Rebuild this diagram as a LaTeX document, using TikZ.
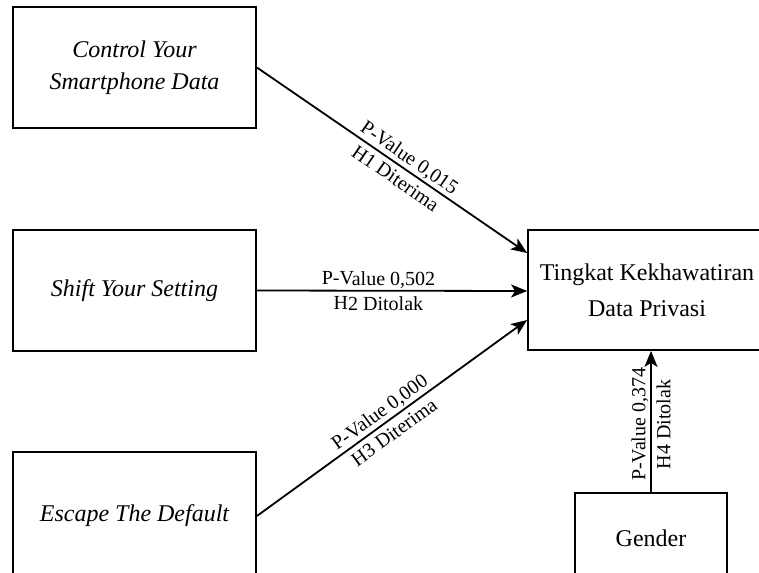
\documentclass[tikz,border=0pt]{standalone}
\usepackage{fontspec}
\setmainfont{Liberation Serif}
\usetikzlibrary{arrows.meta, positioning, calc}

\begin{document}
\begin{tikzpicture}[x=1pt, y=-1pt,
      varbox/.style={draw, line width=1.8pt, minimum width=243pt,
        minimum height=121pt, align=center,
        font=\fontsize{24}{32}\selectfont},
      lbl/.style={sloped, align=center, inner sep=1pt,
        font=\fontsize{20}{25}\selectfont},
      link/.style={->, line width=1.8pt},
      >={Stealth[length=16pt, width=13pt, inset=4pt]}
    ]
      \useasboundingbox (0,0) rectangle (759,572);
      \clip (0,0) rectangle (759,572);
      \node[varbox] (control) at (134.5,67.5)
        {\itshape Control Your\\\itshape Smartphone Data};
      \node[varbox] (shift) at (134.5,290.5) {\itshape Shift Your Setting};
      \node[varbox, minimum height=128pt] (escape) at (134.5,516)
        {\itshape Escape The Default};
      \node[varbox, minimum width=256pt, minimum height=120pt,
        font=\fontsize{24}{36}\selectfont] (worry)
        at (656,290) {\hspace*{-18pt}Tingkat Kekhawatiran\\
          \hspace*{-18pt}Data Privasi};
      \node[varbox, minimum width=152pt, minimum height=90pt] (gender)
        at (651,538) {Gender};
      \draw[link] (control.east) -- ([yshift=37pt]worry.west)
        node[lbl, pos=0.54] {P-Value 0,015\\H1 Diterima};
      \draw[link] (shift.east) -- ([yshift=-1pt]worry.west)
        node[lbl, pos=0.45] {P-Value 0,502\\H2 Ditolak};
      \draw[link] (escape.east) -- ([yshift=-30pt]worry.west)
        node[lbl, pos=0.48] {P-Value 0,000\\H3 Diterima};
      \draw[link] (gender.north) -- (gender.north |- worry.south)
        node[lbl, pos=0.48] {P-Value 0,374\\H4 Ditolak};
    \end{tikzpicture}
\end{document}
